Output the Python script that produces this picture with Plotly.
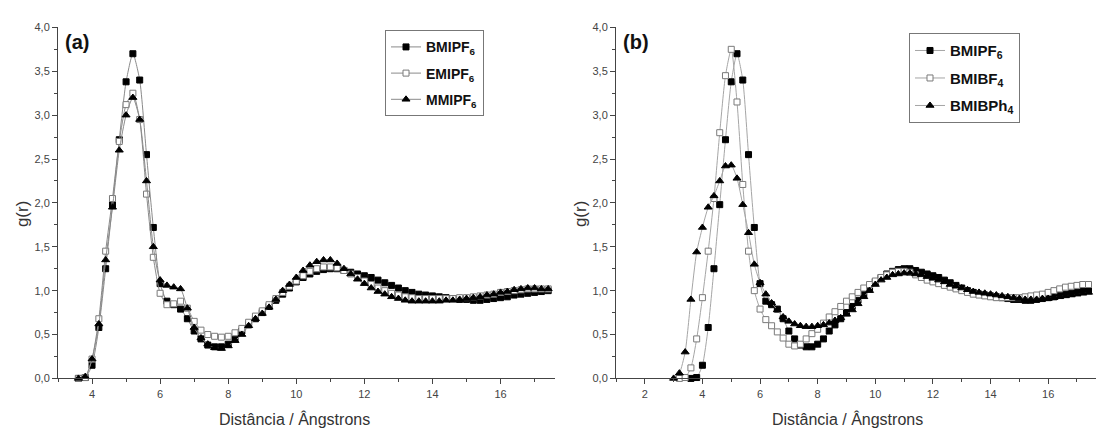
import plotly.graph_objects as go

# ---------------- data ----------------
R = [3.0, 3.2, 3.4, 3.6, 3.8, 4.0, 4.2, 4.4, 4.6, 4.8,
     5.0, 5.2, 5.4, 5.6, 5.8, 6.0, 6.2, 6.4, 6.6, 6.8,
     7.0, 7.2, 7.4, 7.6, 7.8, 8.0, 8.2, 8.4, 8.6, 8.8,
     9.0, 9.2, 9.4, 9.6, 9.8, 10.0, 10.2, 10.4, 10.6, 10.8,
     11.0, 11.2, 11.4, 11.6, 11.8, 12.0, 12.2, 12.4, 12.6, 12.8,
     13.0, 13.2, 13.4, 13.6, 13.8, 14.0, 14.2, 14.4, 14.6, 14.8,
     15.0, 15.2, 15.4, 15.6, 15.8, 16.0, 16.2, 16.4, 16.6, 16.8,
     17.0, 17.2, 17.4]

BMIPF6 = [None, None, None, 0.00, 0.01, 0.15, 0.58, 1.25, 1.98, 2.72,
          3.38, 3.70, 3.40, 2.55, 1.72, 1.08, 0.88, 0.84, 0.79, 0.68,
          0.54, 0.45, 0.38, 0.36, 0.36, 0.39, 0.45, 0.54, 0.61, 0.68,
          0.75, 0.82, 0.89, 0.96, 1.03, 1.10, 1.15, 1.19, 1.22, 1.24,
          1.25, 1.25, 1.23, 1.21, 1.19, 1.17, 1.15, 1.12, 1.09, 1.06,
          1.03, 1.00, 0.98, 0.96, 0.95, 0.94, 0.93, 0.92, 0.91, 0.90,
          0.90, 0.89, 0.89, 0.90, 0.91, 0.92, 0.93, 0.95, 0.96, 0.97,
          0.98, 0.99, 1.00]

EMIPF6 = [None, None, None, 0.00, 0.01, 0.22, 0.68, 1.45, 2.05, 2.70,
          3.12, 3.25, 2.95, 2.10, 1.38, 0.97, 0.84, 0.85, 0.88, 0.80,
          0.65, 0.55, 0.50, 0.48, 0.47, 0.48, 0.52, 0.57, 0.64, 0.71,
          0.77, 0.84, 0.91, 0.98, 1.05, 1.11, 1.17, 1.22, 1.25, 1.27,
          1.27, 1.26, 1.23, 1.19, 1.15, 1.11, 1.07, 1.03, 1.00, 0.97,
          0.95, 0.93, 0.92, 0.91, 0.91, 0.91, 0.91, 0.91, 0.91, 0.92,
          0.92, 0.93, 0.94, 0.95, 0.96, 0.98, 0.99, 1.00, 1.01, 1.02,
          1.02, 1.02, 1.02]

MMIPF6 = [None, None, None, 0.00, 0.02, 0.22, 0.62, 1.35, 1.95, 2.60,
          3.00, 3.20, 2.95, 2.25, 1.50, 1.12, 1.06, 1.04, 1.02, 0.80,
          0.58, 0.46, 0.39, 0.35, 0.34, 0.37, 0.43, 0.50, 0.60, 0.68,
          0.74, 0.81, 0.90, 1.00, 1.07, 1.15, 1.23, 1.29, 1.33, 1.35,
          1.35, 1.31, 1.25, 1.19, 1.13, 1.08, 1.03, 0.99, 0.96, 0.93,
          0.91, 0.89, 0.88, 0.88, 0.88, 0.88, 0.88, 0.89, 0.89, 0.90,
          0.91, 0.92, 0.93, 0.95, 0.96, 0.98, 0.99, 1.01, 1.02, 1.03,
          1.03, 1.02, 1.02]

BMIBF4 = [None, 0.00, 0.01, 0.12, 0.45, 0.92, 1.45, 2.05, 2.80, 3.45,
          3.75, 3.15, 2.21, 1.45, 1.00, 0.79, 0.67, 0.60, 0.53, 0.46,
          0.39, 0.37, 0.39, 0.45, 0.51, 0.56, 0.63, 0.70, 0.76, 0.82,
          0.88, 0.93, 0.98, 1.03, 1.07, 1.11, 1.15, 1.18, 1.21, 1.22,
          1.22, 1.21, 1.18, 1.15, 1.12, 1.10, 1.08, 1.06, 1.04, 1.02,
          1.00, 0.98, 0.96, 0.95, 0.94, 0.93, 0.92, 0.92, 0.92, 0.92,
          0.92, 0.93, 0.94, 0.95, 0.96, 0.98, 1.00, 1.02, 1.04, 1.05,
          1.06, 1.07, 1.07]

BMIBPh4 = [0.00, 0.06, 0.30, 0.90, 1.44, 1.72, 1.95, 2.08, 2.25, 2.42,
           2.43, 2.28, 1.98, 1.66, 1.30, 1.09, 0.96, 0.86, 0.78, 0.70,
           0.65, 0.62, 0.60, 0.59, 0.59, 0.60, 0.61, 0.63, 0.66, 0.69,
           0.73, 0.78, 0.85, 0.93, 1.00, 1.07, 1.12, 1.15, 1.18, 1.19,
           1.20, 1.20, 1.19, 1.18, 1.16, 1.14, 1.12, 1.10, 1.07, 1.05,
           1.03, 1.01, 0.99, 0.98, 0.97, 0.96, 0.95, 0.94, 0.93, 0.92,
           0.91, 0.90, 0.90, 0.90, 0.91, 0.91, 0.92, 0.93, 0.94, 0.95,
           0.96, 0.97, 0.98]

NAMES_A = ["<b>BMIPF<sub>6</sub></b>", "<b>EMIPF<sub>6</sub></b>", "<b>MMIPF<sub>6</sub></b>"]
NAMES_B = ["<b>BMIPF<sub>6</sub></b>", "<b>BMIBF<sub>4</sub></b>", "<b>BMIBPh<sub>4</sub></b>"]
X_TITLE = "Distância / Ângstrons"
Y_TITLE = "g(r)"

# ---------------- styles ----------------
FONT = "Liberation Sans, Arial, sans-serif"
LINE_A = "#8a8a8a"
LINE_B = "#a5a5a5"
AXC = "#444444"

STY_FILLED_SQ = dict(symbol="square", size=6, color="#000000", line=dict(color="#000000", width=1))
STY_OPEN_SQ = dict(symbol="square", size=6, color="#ffffff", line=dict(color="#7a7a7a", width=1))
STY_TRI = dict(symbol="triangle-up", size=7, color="#000000", line=dict(color="#000000", width=1))

fig = go.Figure()


def add(ys, name, marker, xa, ya, leg, lc, grp):
    fig.add_trace(go.Scatter(
        x=R, y=ys, name=name, mode="lines+markers",
        line=dict(color=lc, width=1, shape="spline", smoothing=0.6),
        marker=marker, xaxis=xa, yaxis=ya, legend=leg, legendgroup=grp,
        cliponaxis=False))


add(BMIPF6, NAMES_A[0], STY_FILLED_SQ, "x", "y", "legend", LINE_A, "a1")
add(EMIPF6, NAMES_A[1], STY_OPEN_SQ, "x", "y", "legend", LINE_A, "a2")
add(MMIPF6, NAMES_A[2], STY_TRI, "x", "y", "legend", LINE_A, "a3")

add(BMIPF6, NAMES_B[0], STY_FILLED_SQ, "x2", "y2", "legend2", LINE_B, "b1")
add(BMIBF4, NAMES_B[1], STY_OPEN_SQ, "x2", "y2", "legend2", LINE_B, "b2")
add(BMIBPh4, NAMES_B[2], STY_TRI, "x2", "y2", "legend2", LINE_B, "b3")

W, H = 1096, 434
YDOM = [51 / H, 412 / H]

common_x = dict(showline=True, linecolor=AXC, linewidth=1, ticks="outside", ticklen=5,
                tickwidth=1, tickcolor=AXC, showgrid=False, zeroline=False, tick0=0, dtick=2,
                tickfont=dict(family=FONT, size=11, color=AXC),
                minor=dict(ticks="outside", ticklen=3, dtick=1, tickcolor=AXC, showgrid=False))
common_y = dict(showline=True, linecolor=AXC, linewidth=1, ticks="outside", ticklen=5,
                tickwidth=1, tickcolor=AXC, showgrid=False, zeroline=False, tick0=0, dtick=0.5,
                range=[0, 4], tickformat=".1f", domain=YDOM,
                tickfont=dict(family=FONT, size=11, color=AXC),
                minor=dict(ticks="outside", ticklen=3, dtick=0.25, tickcolor=AXC, showgrid=False))

leg_common = dict(bgcolor="white", bordercolor="#777777", borderwidth=1,
                  xanchor="left", yanchor="top", tracegroupgap=5, itemwidth=30)

fig.update_layout(
    width=W, height=H, margin=dict(l=0, r=0, t=0, b=0),
    paper_bgcolor="white", plot_bgcolor="white", separators=", ",
    xaxis=dict(domain=[58 / W, 555 / W], range=[3, 17.6], anchor="y", **common_x),
    yaxis=dict(anchor="x", **common_y),
    xaxis2=dict(domain=[616 / W, 1.0], range=[1, 17.66], anchor="y2", **common_x),
    yaxis2=dict(anchor="x2", **common_y),
    legend=dict(x=385 / W, y=1 - 25 / H, font=dict(family=FONT, size=14, color="#111111"),
                **leg_common),
    legend2=dict(x=909 / W, y=1 - 28 / H, font=dict(family=FONT, size=15, color="#111111"),
                 **leg_common),
)

ann = []
for lbl, px in (("(a)", 63), ("(b)", 621)):
    ann.append(dict(text="<b>" + lbl + "</b>", x=px / W, y=1 - 37 / H, xref="paper", yref="paper",
                    xanchor="left", yanchor="middle", showarrow=False,
                    font=dict(family=FONT, size=20, color="#111111")))
for px in (294, 847):
    ann.append(dict(text=X_TITLE, x=px / W, y=1 - 425 / H, xref="paper", yref="paper",
                    xanchor="center", yanchor="middle", showarrow=False,
                    font=dict(family=FONT, size=16, color="#333333")))
for px in (22, 580):
    ann.append(dict(text=Y_TITLE, x=px / W, y=1 - 214 / H, xref="paper", yref="paper",
                    xanchor="center", yanchor="middle", showarrow=False, textangle=-90,
                    font=dict(family=FONT, size=17, color="#333333")))
fig.update_layout(annotations=ann)

fig.write_html("out.html")
